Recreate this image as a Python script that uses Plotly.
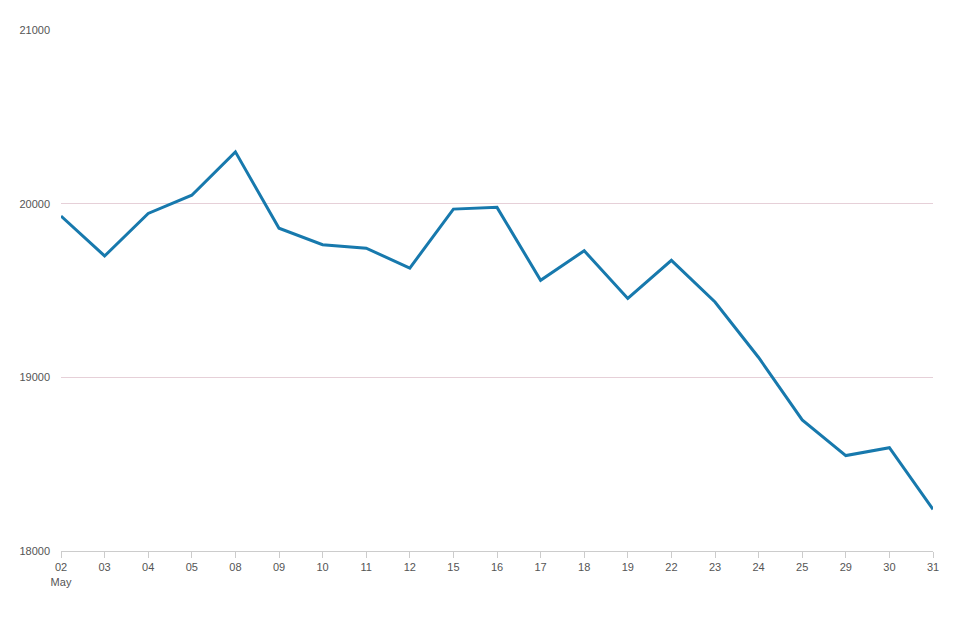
import plotly.graph_objects as go

days = ["02", "03", "04", "05", "08", "09", "10", "11", "12", "15", "16",
        "17", "18", "19", "22", "23", "24", "25", "29", "30", "31"]
values = [19930, 19700, 19945, 20050, 20300, 19860, 19765, 19745, 19630, 19970, 19980,
          19560, 19730, 19455, 19675, 19435, 19115, 18755, 18550, 18595, 18240]
tick_text = ["02<br>May"] + days[1:]

fig = go.Figure(go.Scatter(x=days, y=values, mode="lines",
                           line=dict(color="#1779ad", width=3)))

fig.update_layout(
    width=971, height=621,
    margin=dict(l=53, r=46, t=22, b=78),
    plot_bgcolor="white", paper_bgcolor="white",
    font=dict(family="Liberation Sans, Arial", size=11, color="#555"),
    showlegend=False,
)
fig.update_xaxes(type="category", tickvals=days, ticktext=tick_text,
                 showgrid=False, showline=True, linecolor="#ccc",
                 ticks="outside", ticklen=6, tickcolor="#ccc", range=[0, 20])
fig.update_yaxes(range=[18000, 21002], tickvals=[18000, 19000, 20000, 21000],
                 tickformat="d", gridcolor="#e6d0d8", zeroline=False, showline=False,
                 ticks="", ticklabelstandoff=10)

fig.write_html("out.html")
